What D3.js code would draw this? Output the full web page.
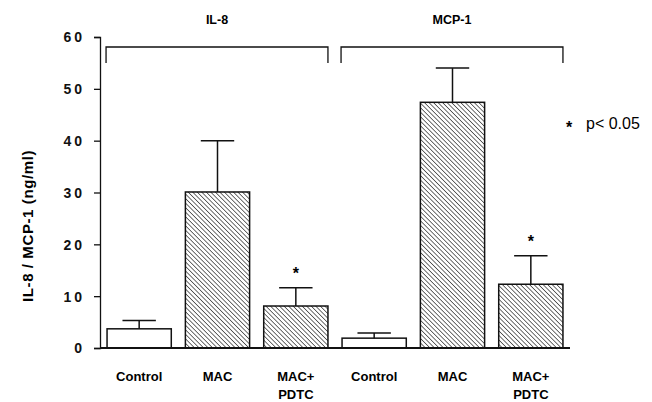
<!DOCTYPE html>
<html>
<head>
<meta charset="utf-8">
<script src="https://cdn.jsdelivr.net/npm/d3@7"></script>
<style>
  body { margin: 0; background: #fff; }
  svg { display: block; font-family: "Liberation Sans", Arial, sans-serif; }
  .tick-label { font-weight: bold; font-size: 14px; letter-spacing: 3px; }
  .cat-label { font-weight: bold; font-size: 13px; }
  .group-label { font-weight: bold; font-size: 12.5px; }
</style>
</head>
<body>
<div id="chart"></div>
<script>
// data
var groups = ["IL-8", "MCP-1"];
var treatments = ["Control", "MAC", "MAC+|PDTC"];
var il8Means = [3.7, 30.1, 8.1];
var il8Upper = [5.3, 40, 11.6];
var mcp1Means = [1.9, 47.4, 12.3];
var mcp1Upper = [2.9, 54, 17.8];
var starred = [false, false, true];
var yTicks = [0, 10, 20, 30, 40, 50, 60];

var width = 652, height = 402;
var svg = d3.select("#chart").append("svg")
  .attr("width", width).attr("height", height);

// hatch pattern (lines going \ )
var defs = svg.append("defs");
var pat = defs.append("pattern")
  .attr("id", "hatch")
  .attr("patternUnits", "userSpaceOnUse")
  .attr("width", 3.2).attr("height", 3.2)
  .attr("patternTransform", "rotate(-45)");
pat.append("rect").attr("width", 3.2).attr("height", 3.2).attr("fill", "#fff");
pat.append("line")
  .attr("x1", 0).attr("y1", 0).attr("x2", 0).attr("y2", 3.2)
  .attr("stroke", "#222").attr("stroke-width", 1.3);

// build rows
var rows = [];
groups.forEach(function(g, gi){
  var means = gi === 0 ? il8Means : mcp1Means;
  var upper = gi === 0 ? il8Upper : mcp1Upper;
  treatments.forEach(function(t, ti){
    rows.push({key: g + "_" + ti, group: g, label: t, mean: means[ti], upper: upper[ti],
      star: starred[ti], control: ti === 0});
  });
});

var x = d3.scaleBand()
  .domain(rows.map(function(d){ return d.key; }))
  .range([100, 570])
  .paddingInner(0.18)
  .paddingOuter(0.09);

var y = d3.scaleLinear().domain([0, 60]).range([348, 37]);

// y axis
var yAxis = svg.append("g").attr("transform", "translate(100,0)")
  .call(d3.axisLeft(y).tickValues(yTicks).tickSize(6).tickPadding(9));
yAxis.select(".domain").attr("stroke", "#111").attr("stroke-width", 1.3);
yAxis.selectAll(".tick line").attr("stroke", "#111").attr("stroke-width", 1.3);
yAxis.selectAll(".tick text")
  .attr("class", "tick-label")
  .attr("fill", "#111")
  .attr("dy", "0.35em")
  .style("font-family", "'Liberation Sans', Arial, sans-serif");

svg.append("text")
  .attr("transform", "translate(33,226) rotate(-90)")
  .attr("text-anchor", "middle")
  .style("font-weight", "bold").style("font-size", "15px")
  .style("letter-spacing", "0.6px")
  .text("IL-8 / MCP-1 (ng/ml)");

// bars
svg.selectAll(".bar").data(rows).enter()
  .append("rect")
  .attr("class", "bar")
  .attr("x", function(d){ return x(d.key); })
  .attr("y", function(d){ return y(d.mean); })
  .attr("width", x.bandwidth())
  .attr("height", function(d){ return y(0) - y(d.mean); })
  .attr("fill", function(d){ return d.control ? "#fff" : "url(#hatch)"; })
  .attr("stroke", "#111").attr("stroke-width", 1.5);

// error bars
var capW = x.bandwidth() * 0.52;
var err = svg.selectAll(".err").data(rows).enter().append("g").attr("class", "err");
err.append("line")
  .attr("x1", function(d){ return x(d.key) + x.bandwidth()/2; })
  .attr("x2", function(d){ return x(d.key) + x.bandwidth()/2; })
  .attr("y1", function(d){ return y(d.mean); })
  .attr("y2", function(d){ return y(d.upper); })
  .attr("stroke", "#111").attr("stroke-width", 1.5);
err.append("line")
  .attr("x1", function(d){ return x(d.key) + x.bandwidth()/2 - capW/2; })
  .attr("x2", function(d){ return x(d.key) + x.bandwidth()/2 + capW/2; })
  .attr("y1", function(d){ return y(d.upper); })
  .attr("y2", function(d){ return y(d.upper); })
  .attr("stroke", "#111").attr("stroke-width", 1.5);

// stars
svg.selectAll(".star").data(rows.filter(function(d){ return d.star; })).enter()
  .append("text")
  .attr("x", function(d){ return x(d.key) + x.bandwidth()/2; })
  .attr("y", function(d){ return y(d.upper) - 9; })
  .attr("text-anchor", "middle")
  .style("font-size", "16px").style("font-weight", "bold")
  .text("*");

// baseline
svg.append("line")
  .attr("x1", 100).attr("x2", 570)
  .attr("y1", y(0)).attr("y2", y(0))
  .attr("stroke", "#111").attr("stroke-width", 2);

// category labels
var cl = svg.selectAll(".cat").data(rows).enter()
  .append("text")
  .attr("class", "cat-label")
  .attr("text-anchor", "middle")
  .attr("x", function(d){ return x(d.key) + x.bandwidth()/2; })
  .attr("y", 381);
cl.each(function(d){
  var parts = d.label.split("|");
  var el = d3.select(this);
  parts.forEach(function(p, i){
    el.append("tspan")
      .attr("x", x(d.key) + x.bandwidth()/2)
      .attr("dy", i === 0 ? 0 : 18)
      .text(p);
  });
});

// group brackets
groups.forEach(function(g){
  var keys = rows.filter(function(d){ return d.group === g; }).map(function(d){ return d.key; });
  var x0 = x(keys[0]) - 1, x1 = x(keys[keys.length-1]) + x.bandwidth();
  var by = 47, bt = 63;
  svg.append("path")
    .attr("d", "M" + x0 + "," + bt + "V" + by + "H" + x1 + "V" + bt)
    .attr("fill", "none").attr("stroke", "#111").attr("stroke-width", 1.3);
  svg.append("text")
    .attr("class", "group-label")
    .attr("text-anchor", "middle")
    .attr("x", (x0 + x1) / 2)
    .attr("y", 24)
    .text(g);
});

// significance legend
svg.append("text")
  .attr("x", 566).attr("y", 133)
  .style("font-size", "16px").style("font-weight", "bold")
  .text("*");
svg.append("text")
  .attr("x", 586).attr("y", 129)
  .style("font-size", "16px")
  .text("p< 0.05");
</script>
</body>
</html>
